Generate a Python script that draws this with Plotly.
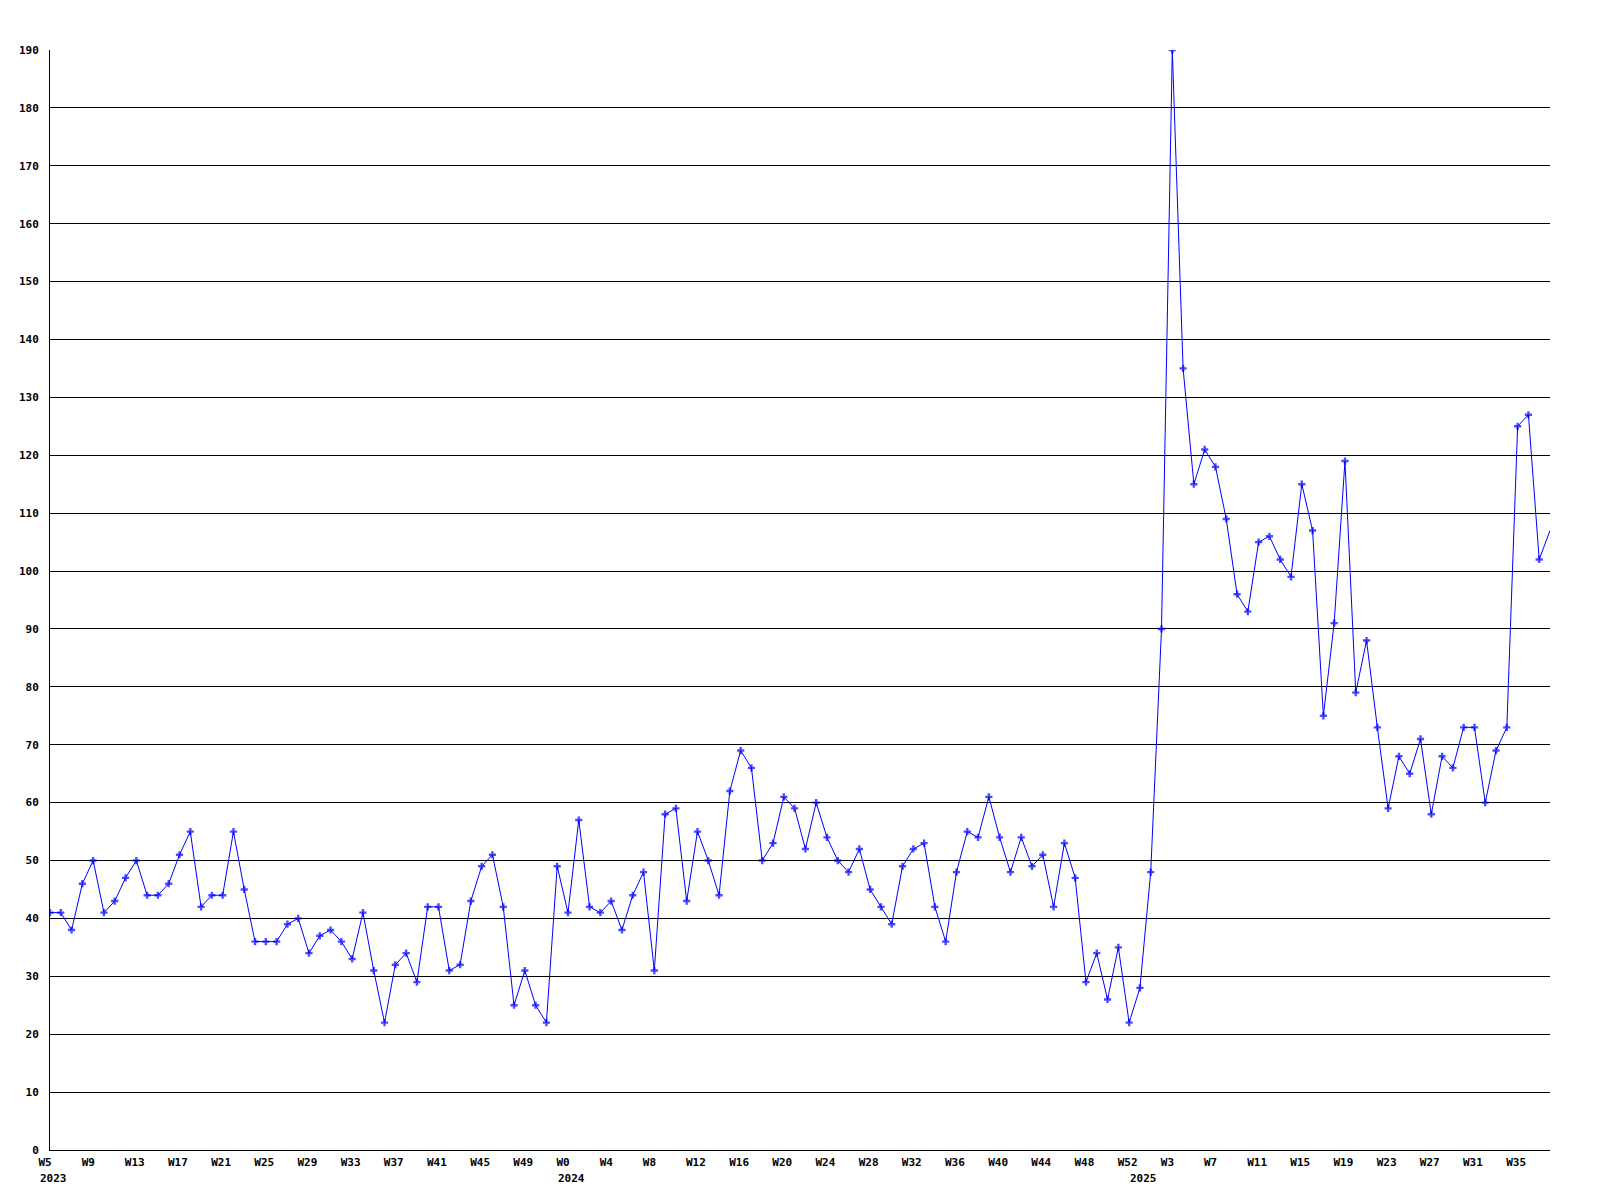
import plotly.graph_objects as go

# weekly counts, 2023 W5 .. 2025 W38
counts = [
    41, 41, 38, 46, 50, 41, 43, 47, 50, 44, 44, 46, 51, 55, 42, 44, 44, 55, 45, 36,
    36, 36, 39, 40, 34, 37, 38, 36, 33, 41, 31, 22, 32, 34, 29, 42, 42, 31, 32, 43,
    49, 51, 42, 25, 31, 25, 22, 49, 41, 57, 42, 41, 43, 38, 44, 48, 31, 58, 59, 43,
    55, 50, 44, 62, 69, 66, 50, 53, 61, 59, 52, 60, 54, 50, 48, 52, 45, 42, 39, 49,
    52, 53, 42, 36, 48, 55, 54, 61, 54, 48, 54, 49, 51, 42, 53, 47, 29, 34, 26, 35,
    22, 28, 48, 90, 190, 135, 115, 121, 118, 109, 96, 93, 105, 106, 102, 99, 115, 107, 75, 91,
    119, 79, 88, 73, 59, 68, 65, 71, 58, 68, 66, 73, 73, 60, 69, 73, 125, 127, 102, 107,
]

# (year, first week, last week) covered by the data
year_spans = [(2023, 5, 52), (2024, 0, 52), (2025, 0, 38)]

weeks = []
year_starts = []
for year, first, last in year_spans:
    year_starts.append((len(weeks), str(year)))
    for w in range(first, last + 1):
        weeks.append((year, w))

x = list(range(len(weeks)))
tick_vals = x[::4]
tick_text = ["W%d" % weeks[i][1] for i in tick_vals]

label_font = dict(family="DejaVu Sans Mono", size=11, color="black", weight="bold")

marker_sizes = [6] * len(counts)
marker_sizes[-1] = 0

fig = go.Figure()
fig.add_trace(
    go.Scatter(
        x=x,
        y=counts,
        mode="lines+markers",
        line=dict(color="#0000ff", width=1),
        marker=dict(symbol="cross", size=marker_sizes, color="#0000ff", line=dict(width=0)),
        hoverinfo="y",
    )
)

for pos, year in year_starts:
    fig.add_annotation(
        x=pos, y=0, xref="x", yref="paper",
        text=year, showarrow=False,
        xanchor="left", yanchor="top",
        xshift=-12, yshift=-20,
        font=label_font,
    )

fig.update_layout(
    width=1600,
    height=1200,
    template="simple_white",
    paper_bgcolor="white",
    plot_bgcolor="white",
    showlegend=False,
    margin=dict(l=50, r=50, t=50, b=50),
    font=label_font,
)
fig.update_xaxes(
    range=[0, len(counts) - 1],
    tickvals=tick_vals,
    ticktext=tick_text,
    ticks="",
    showline=True,
    linecolor="black",
    linewidth=1,
    showgrid=False,
    zeroline=False,
    ticklabelposition="outside right",
    ticklabelshift=-12,
    ticklabelstandoff=2,
    tickfont=label_font,
)
fig.update_yaxes(
    range=[0, 190],
    dtick=10,
    tick0=0,
    ticks="",
    showline=True,
    linecolor="black",
    linewidth=1,
    showgrid=True,
    gridcolor="black",
    gridwidth=1,
    zeroline=False,
    ticklabelstandoff=8,
    tickfont=label_font,
)

fig.write_html(
    "out.html",
    config={"displayModeBar": False},
    post_script="document.body.style.margin='0';",
)
